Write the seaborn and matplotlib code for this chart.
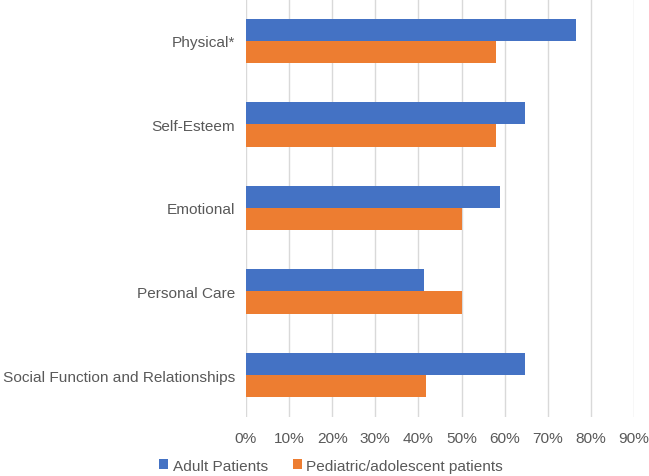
import matplotlib
matplotlib.use("Agg")
import matplotlib.pyplot as plt
import seaborn as sns
import pandas as pd
from matplotlib.ticker import PercentFormatter

categories = ['Physical*', 'Self-Esteem', 'Emotional', 'Personal Care',
              'Social Function and Relationships']
series = ['Adult Patients', 'Pediatric/adolescent patients']
adult = [0.765, 0.647, 0.588, 0.412, 0.647]
pediatric = [0.579, 0.579, 0.50, 0.50, 0.417]
colors = ['#4472C4', '#ED7D31']

df = pd.DataFrame({
    'domain': categories * 2,
    'group': [series[0]] * len(categories) + [series[1]] * len(categories),
    'value': adult + pediatric,
})

sns.set_theme(style="white")
plt.rcParams['font.family'] = ['Liberation Sans', 'DejaVu Sans']

fig = plt.figure(figsize=(6.49, 4.77), dpi=100)
ax = fig.add_axes([0.379, 0.124, 0.598, 0.876])

sns.barplot(data=df, y='domain', x='value', hue='group', order=categories,
            hue_order=series, palette=colors, width=0.53, orient='h',
            saturation=1, linewidth=0, ax=ax, legend=True)

ax.set_xlim(0, 0.9)
ax.set_ylim(len(categories) - 0.5, -0.5)
ax.set_xticks([i / 10 for i in range(10)])
ax.xaxis.set_major_formatter(PercentFormatter(1.0, decimals=0))
ax.grid(axis='x', color='#d9d9d9', linewidth=1)
ax.set_axisbelow(True)
for s in ax.spines.values():
    s.set_visible(False)
ax.set_xlabel('')
ax.set_ylabel('')
ax.tick_params(axis='both', length=0, labelsize=11.1, labelcolor='#595959')
ax.tick_params(axis='x', pad=10)
ax.tick_params(axis='y', pad=8)

handles, labels = ax.get_legend_handles_labels()
ax.get_legend().remove()
fig.legend(handles, labels, loc='lower center', bbox_to_anchor=(0.51, -0.022),
           ncol=2, frameon=False, fontsize=11.1, handlelength=0.6,
           handleheight=0.6, handletextpad=0.3, columnspacing=1.6,
           labelcolor='#595959')

fig.savefig('out.png', dpi=100)
